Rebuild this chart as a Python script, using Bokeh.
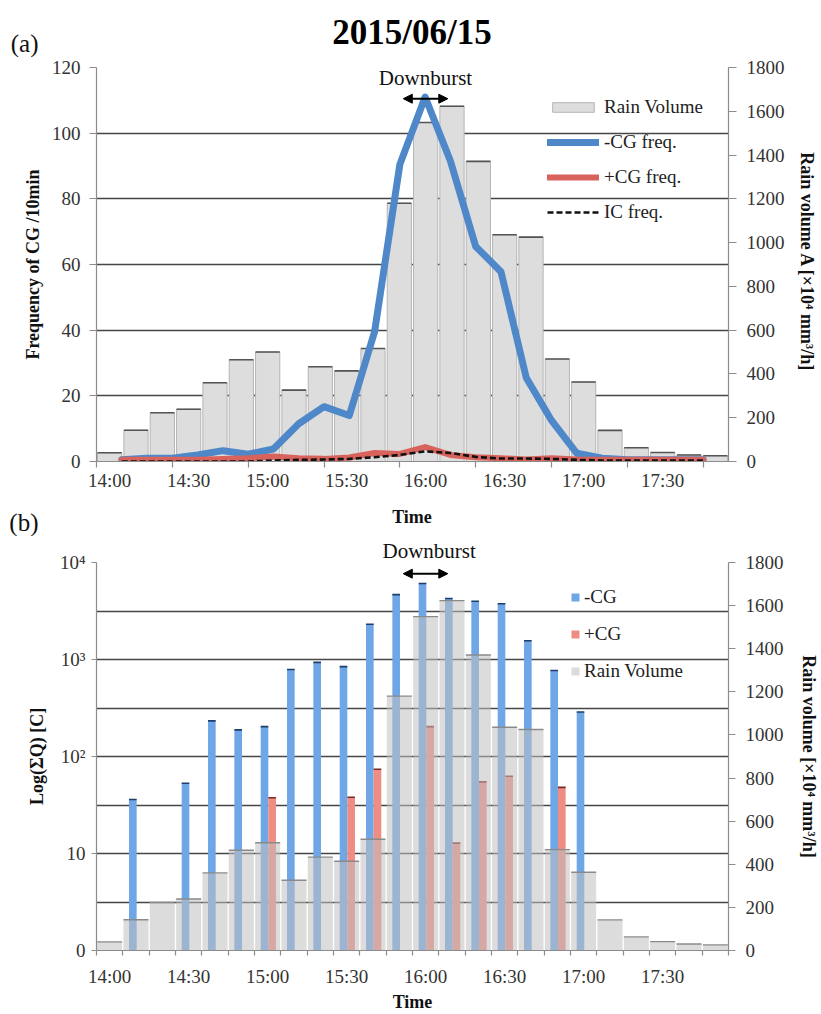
import numpy as np
from bokeh.plotting import figure
from bokeh.models import (Range1d, LinearAxis, FixedTicker, Legend, LegendItem, Label,
                          Arrow, NormalHead, LinearScale, ColumnDataSource, Title)
from bokeh.layouts import column
from bokeh.embed import file_html
from bokeh.resources import INLINE

NAN = float("nan")

# ---------------- data ----------------
categories = ["14:00", "14:10", "14:20", "14:30", "14:40", "14:50",
              "15:00", "15:10", "15:20", "15:30", "15:40", "15:50",
              "16:00", "16:10", "16:20", "16:30", "16:40", "16:50",
              "17:00", "17:10", "17:20", "17:30", "17:40", "17:50"]
tick_labels = ["14:00", "14:30", "15:00", "15:30", "16:00", "16:30", "17:00", "17:30"]

# rain volume [x10^4 mm^3/h]
rain_volume = [40, 143, 223, 239, 360, 465, 500, 326, 433, 414, 516, 1180,
               1549, 1623, 1371, 1036, 1025, 468, 363, 142, 63, 41, 30, 26]
# flash frequencies per 10 min
neg_cg_freq = [0.5, 1, 1, 2, 3.3, 2.2, 3.8, 11.5, 16.7, 14, 39.5, 90.5,
               111, 91.5, 65.5, 57.8, 25.5, 12.5, 2.5, 1, 0.5, 0.5, 0.5, 0.5]
pos_cg_freq = [0.5, 0.5, 0.5, 0.5, 0.8, 1, 1.5, 1, 0.8, 1.2, 2.6, 2.3,
               4.4, 2, 1.3, 1, 0.6, 1, 0.6, 0.5, 0.5, 0.5, 0.5, 0.5]
ic_freq = [0, 0, 0, 0, 0, 0, 0.3, 0.5, 0.6, 0.8, 1.3, 2,
           3.1, 2.6, 1.4, 0.9, 0.9, 0.8, 0.5, 0.3, 0.3, 0.3, 0.3, 0.3]
# summed charge per 10 min [C]
neg_cg_charge = [NAN, 36, NAN, 53, 233, 188, 203, 788, 935, 845, 2305, 4670,
                 6080, 4250, 3990, 3750, 1560, 770, 288, NAN, NAN, NAN, NAN, NAN]
pos_cg_charge = [NAN, NAN, NAN, NAN, NAN, NAN, 37.5, NAN, NAN, 38, 74, NAN,
                 203, 12.8, 54.7, 62.5, NAN, 48, NAN, NAN, NAN, NAN, NAN, NAN]

freq_ticks = [0, 20, 40, 60, 80, 100, 120]
rain_ticks = [0, 200, 400, 600, 800, 1000, 1200, 1400, 1600, 1800]
charge_ticks = [1, 10, 100, 1000, 10000]
charge_tick_labels = ["0", "10", "10\u00b2", "10\u00b3", "10\u2074"]

downburst_start = 11.15   # category position (about 15:51)
downburst_end = 12.84     # category position (about 16:08)

FONT = "Liberation Serif"
AX_GRAY = "#8c8c8c"
GRID = "#464646"
W = 821
LEFT = 96      # frame left edge (px)
RIGHT = 86     # border right of the frame (px)

idx = np.arange(len(categories), dtype=float)
tick_pos = [categories.index(t) for t in tick_labels]
x_overrides = {int(p): t for p, t in zip(tick_pos, tick_labels)}


def style_axis(ax, tick_out=7):
    ax.axis_line_color = AX_GRAY
    ax.axis_line_width = 1.2
    ax.major_tick_line_color = AX_GRAY
    ax.major_tick_line_width = 1.2
    ax.minor_tick_line_color = AX_GRAY
    ax.minor_tick_line_width = 1.2
    ax.major_tick_out = tick_out
    ax.major_tick_in = 0
    ax.minor_tick_in = 0
    ax.minor_tick_out = 0
    ax.major_label_text_font = FONT
    ax.major_label_text_font_size = "19px"
    ax.major_label_text_color = "#333333"
    ax.axis_label_text_font = FONT
    ax.axis_label_text_font_style = "bold"
    ax.axis_label_text_font_size = "18px"
    ax.axis_label_text_color = "#111111"


def text_strip(height, side_text, side_y):
    """A plain band whose frame spans the plot columns; pixel = data coordinates.
    The panel letter sits in the left margin as the only tick label of a hidden axis."""
    s = figure(width=W, height=height, x_range=Range1d(LEFT, W - RIGHT),
               y_range=Range1d(height, 0), output_backend="svg", toolbar_location=None,
               min_border_left=LEFT, min_border_right=RIGHT, min_border_top=0,
               min_border_bottom=0, x_axis_location=None, y_axis_location="left")
    s.outline_line_color = None
    s.xgrid.visible = False
    s.ygrid.visible = False
    a = s.yaxis[0]
    a.ticker = FixedTicker(ticks=[side_y])
    a.major_label_overrides = {side_y: side_text}
    a.axis_line_color = None
    a.major_tick_line_color = None
    a.minor_tick_line_color = None
    a.major_label_standoff = 52
    a.major_label_text_font = FONT
    a.major_label_text_font_size = "25px"
    a.major_label_text_color = "#111111"
    return s


# ================= top strip: title and (a) =================
top = text_strip(57, "(a)", 44)
top.add_layout(Label(x=415, y=32, text="2015/06/15", text_align="center",
                     text_baseline="middle", text_font=FONT, text_font_style="bold",
                     text_font_size="35px", text_color="black"))

# ================= panel (a) =================
p1 = figure(width=W, height=443, x_range=Range1d(-0.5, 23.5), y_range=Range1d(0, 120),
            output_backend="svg", toolbar_location=None,
            min_border_left=LEFT, min_border_right=RIGHT, min_border_top=10, min_border_bottom=39)
p1.outline_line_color = None
p1.extra_y_ranges = {"rain": Range1d(0, 1800)}
p1.extra_x_ranges = {"slot": Range1d(-1, 24)}

src1 = ColumnDataSource(dict(x=idx, left=idx - 0.46, right=idx + 0.46, rain=rain_volume,
                             neg=neg_cg_freq, pos=pos_cg_freq, ic=ic_freq))

rain_r1 = p1.vbar(x="x", top="rain", width=0.92, source=src1, y_range_name="rain",
                  fill_color="#dddddd", line_color="#b4b4b4", line_width=1)
p1.segment(x0="left", x1="right", y0="rain", y1="rain", source=src1, y_range_name="rain",
           line_color="#555555", line_width=1.6)

neg_r = p1.line(x="x", y="neg", source=src1, x_range_name="slot", line_color="#4f88c9",
                line_width=7, line_join="round", line_cap="round")
pos_r = p1.line(x="x", y="pos", source=src1, x_range_name="slot", line_color="#d8625c",
                line_width=6, line_join="round", line_cap="round")
ic_r = p1.line(x="x", y="ic", source=src1, x_range_name="slot", line_color="#111111",
               line_width=2.6, line_dash="6 3")

p1.xgrid.visible = False
p1.ygrid.ticker = FixedTicker(ticks=freq_ticks[1:])
p1.ygrid.grid_line_color = GRID
p1.ygrid.grid_line_width = 1.3

ax = p1.yaxis[0]
ax.ticker = FixedTicker(ticks=freq_ticks)
style_axis(ax, 7)
ax.major_label_standoff = 9
ax.axis_label = "Frequency of CG /10min"
ax.axis_label_standoff = 6

rax1 = LinearAxis(y_range_name="rain", ticker=FixedTicker(ticks=rain_ticks),
                  axis_label="Rain volume A [\u00d710\u2074  mm\u00b3/h]")
style_axis(rax1, 8)
rax1.major_label_standoff = 10
rax1.axis_label_standoff = 9
p1.add_layout(rax1, "right")

xa = p1.xaxis[0]
xa.ticker = FixedTicker(ticks=tick_pos, minor_ticks=[2.88 * m - 0.5 for m in range(9)])
style_axis(xa, 0)
xa.minor_tick_out = 6
xa.major_label_overrides = x_overrides
xa.major_label_standoff = 2

leg1 = Legend(items=[LegendItem(label="Rain Volume", renderers=[rain_r1]),
                     LegendItem(label="-CG freq.", renderers=[neg_r]),
                     LegendItem(label="+CG freq.", renderers=[pos_r]),
                     LegendItem(label="IC freq.", renderers=[ic_r])],
              location=(451, 238), orientation="vertical")
leg1.border_line_color = None
leg1.background_fill_alpha = 0
leg1.padding = 0
leg1.margin = 0
leg1.glyph_width = 52
leg1.glyph_height = 12
leg1.label_height = 12
leg1.spacing = 13
leg1.label_standoff = 5
leg1.label_text_font = FONT
leg1.label_text_font_size = "19px"
leg1.label_text_color = "#222222"
p1.add_layout(leg1)

p1.add_layout(Arrow(start=NormalHead(size=9, fill_color="black", line_color="black"),
                    end=NormalHead(size=9, fill_color="black", line_color="black"),
                    x_start=downburst_start, x_end=downburst_end, y_start=110.5, y_end=110.5,
                    line_width=2, line_color="black"))
p1.add_layout(Label(x=(downburst_start + downburst_end) / 2, y=116.7, text="Downburst",
                    text_align="center", text_baseline="middle", text_font=FONT,
                    text_font_size="21px", text_color="#111111"))

# ================= middle strip: "Time" of (a) and (b) =================
mid = text_strip(36, "(b)", 22)
mid.add_layout(Label(x=415, y=16, text="Time", text_align="center", text_baseline="middle",
                     text_font=FONT, text_font_style="bold", text_font_size="18px",
                     text_color="#111111"))

# ================= panel (b) =================
p2 = figure(width=W, height=478, x_range=Range1d(-0.5, 23.5), y_range=Range1d(1, 10000),
            y_axis_type="log", output_backend="svg", toolbar_location=None,
            min_border_left=LEFT, min_border_right=RIGHT, min_border_top=24, min_border_bottom=63)
p2.outline_line_color = None
p2.extra_y_ranges = {"rain": Range1d(0, 1800)}
p2.extra_y_scales = {"rain": LinearScale()}

src2 = ColumnDataSource(dict(x=idx, xb=idx - 0.12, xr=idx + 0.17,
                             bl=idx - 0.265, br=idx + 0.025, rl=idx + 0.025, rr=idx + 0.315,
                             gl=idx - 0.475, gr=idx + 0.475,
                             neg=neg_cg_charge, pos=pos_cg_charge, rain=rain_volume))

p2.xgrid.visible = False
p2.ygrid.ticker = FixedTicker(ticks=[10 ** (k / 2) for k in range(1, 9)])
p2.ygrid.grid_line_color = GRID
p2.ygrid.grid_line_width = 1.3

neg_b = p2.vbar(x="xb", top="neg", bottom=1, width=0.29, source=src2,
                fill_color="#6fa6e6", line_color=None)
p2.segment(x0="bl", x1="br", y0="neg", y1="neg", source=src2, line_color="#1f3d6b", line_width=1.6)
pos_b = p2.vbar(x="xr", top="pos", bottom=1, width=0.29, source=src2,
                fill_color="#ef8c84", line_color=None)
p2.segment(x0="rl", x1="rr", y0="pos", y1="pos", source=src2, line_color="#7a2a25", line_width=1.6)
rain_b = p2.vbar(x="x", top="rain", width=0.95, source=src2, y_range_name="rain",
                 fill_color="#bfbfbf", fill_alpha=0.55, line_color=None)
p2.segment(x0="gl", x1="gr", y0="rain", y1="rain", source=src2, y_range_name="rain",
           line_color="#8a8a8a", line_width=1.4)

ay = p2.yaxis[0]
ay.ticker = FixedTicker(ticks=charge_ticks)
style_axis(ay, 5)
ay.major_label_overrides = {t: s for t, s in zip(charge_ticks, charge_tick_labels)}
ay.major_label_standoff = 6
ay.axis_label = "Log(\u03a3Q) [C]"
ay.axis_label_standoff = 10

rax2 = LinearAxis(y_range_name="rain", ticker=FixedTicker(ticks=rain_ticks),
                  axis_label="Rain volume [\u00d710\u2074 mm\u00b3/h]")
style_axis(rax2, 7)
rax2.major_label_standoff = 10
rax2.axis_label_standoff = 12
p2.add_layout(rax2, "right")

xb = p2.xaxis[0]
xb.ticker = FixedTicker(ticks=tick_pos, minor_ticks=[k - 0.5 for k in range(25)])
style_axis(xb, 0)
xb.minor_tick_out = 5
xb.major_label_overrides = x_overrides
xb.major_label_standoff = 10
xb.axis_label = "Time"
xb.axis_label_standoff = 2

leg2 = Legend(items=[LegendItem(label="-CG", renderers=[neg_b]),
                     LegendItem(label="+CG", renderers=[pos_b]),
                     LegendItem(label="Rain Volume", renderers=[rain_b])],
              location=(474, 268), orientation="vertical")
leg2.border_line_color = None
leg2.background_fill_alpha = 0
leg2.padding = 0
leg2.margin = 0
leg2.glyph_width = 10
leg2.glyph_height = 10
leg2.label_height = 10
leg2.spacing = 15
leg2.label_standoff = 4
leg2.label_text_font = FONT
leg2.label_text_font_size = "19px"
leg2.label_text_color = "#222222"
p2.add_layout(leg2)

p2.add_layout(Arrow(start=NormalHead(size=9, fill_color="black", line_color="black"),
                    end=NormalHead(size=9, fill_color="black", line_color="black"),
                    x_start=downburst_start, x_end=downburst_end, y_start=7670, y_end=7670,
                    line_width=2, line_color="black"))
p2.add_layout(Title(text="Downburst", align="left", offset=286, standoff=0,
                    text_font=FONT, text_font_size="21px", text_font_style="normal",
                    text_color="#111111"), "above")

layout = column(top, p1, mid, p2, spacing=0)
open("out.html", "w").write(file_html(layout, INLINE))
